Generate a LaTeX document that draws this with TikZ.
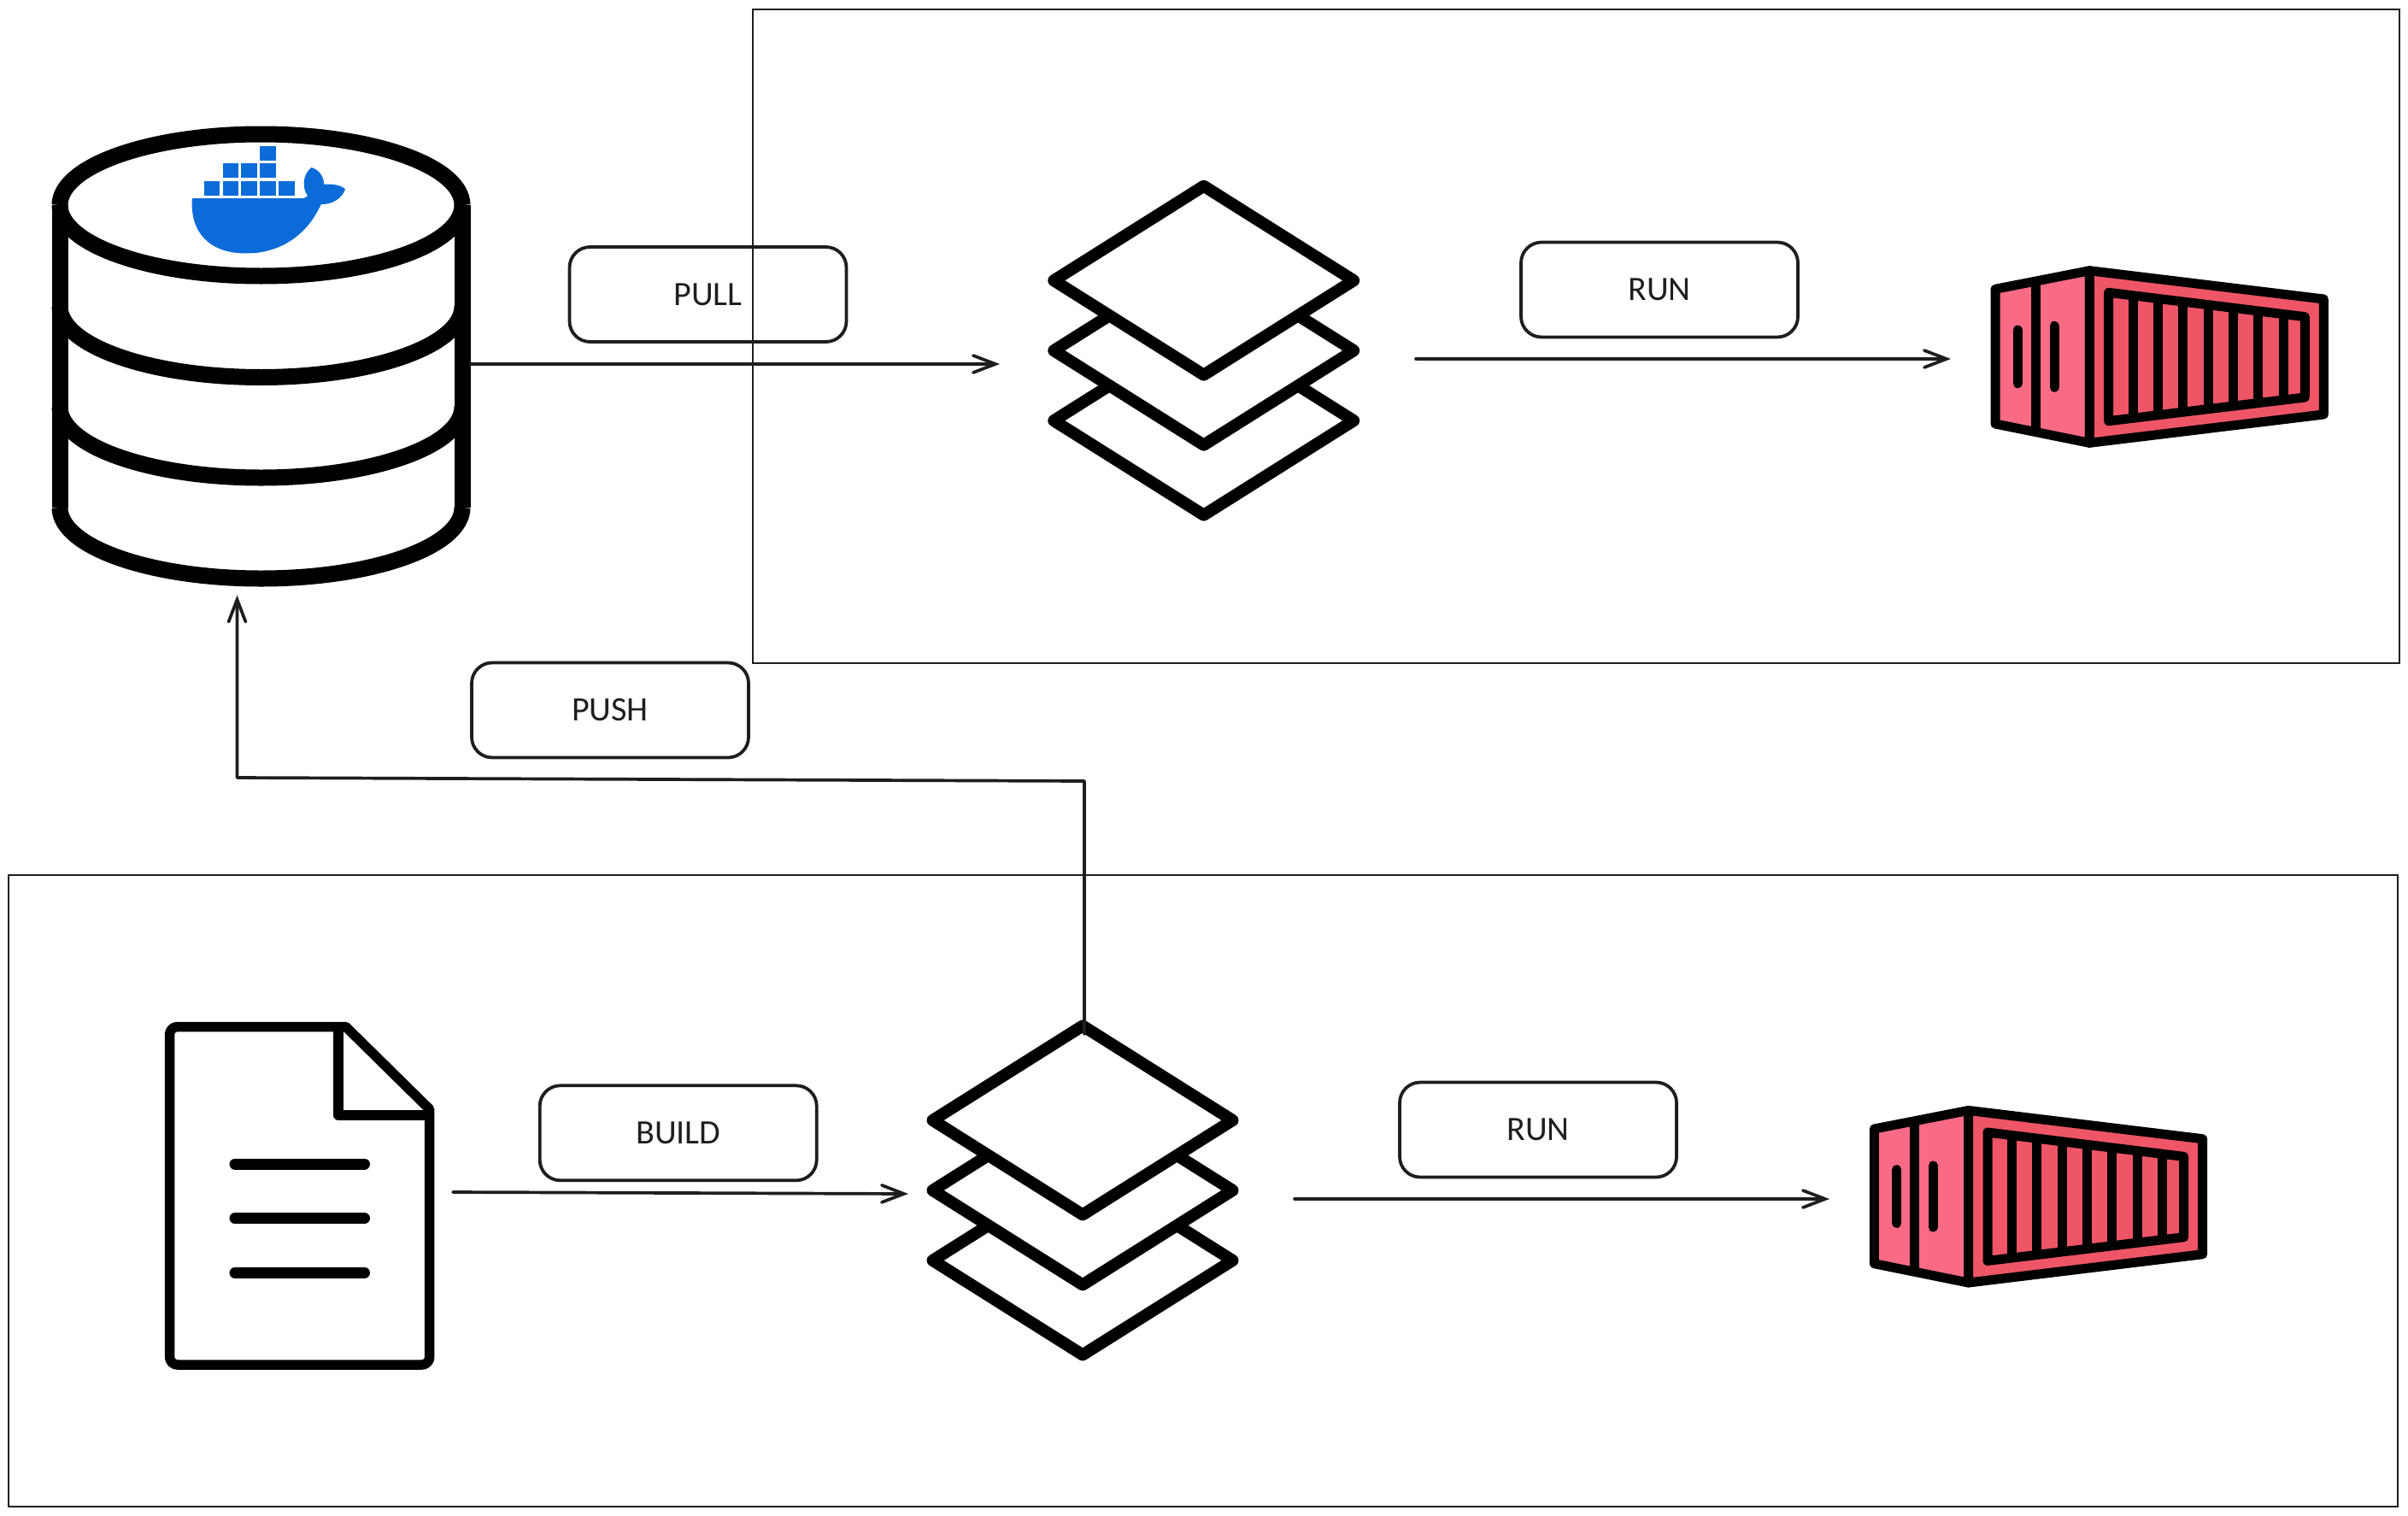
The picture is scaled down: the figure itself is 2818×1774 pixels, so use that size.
\documentclass[tikz,border=0pt]{standalone}
\usepackage{fontspec}
\setmainfont{Carlito}
\usetikzlibrary{calc,arrows.meta}

\definecolor{inkblack}{HTML}{1E1E1E}
\definecolor{dockerblue}{HTML}{0B6CD9}
\definecolor{doorpink}{HTML}{F96B85}
\definecolor{sidepink}{HTML}{EE5567}

\tikzset{
	framebox/.style={draw=inkblack, line width=2.2pt},
	labelbox/.style={draw=inkblack, line width=3.8pt, rounded corners=24pt, minimum width=324pt, minimum height=111pt, inner sep=0pt, text=inkblack, font=\fontsize{40}{42}\selectfont},
	iconbox/.style={inner sep=0pt, outer sep=0pt},
	flowline/.style={draw=inkblack, line width=3.7pt, line cap=round, line join=round, -{Straight Barb[length=26pt,width=20pt,line cap=round]}},
	heavyline/.style={draw=black, line join=round, line width=#1}
}

\begin{document}
\begin{tikzpicture}[x=1pt, y=-1pt]

		\useasboundingbox (0,0) rectangle (2818,1774);

		\pgfmathsetmacro{\layergap}{82}

		% draw the two frames
		\draw[framebox] (881, 11) rectangle (2808, 776);
		\draw[framebox] (10, 1024) rectangle (2806, 1763);

		% draw the registry
		\foreach \arcy in {240, 358.5, 476, 594}
		{
			\draw[heavyline=19pt] (70, \arcy) .. controls (70, \arcy + 45.8) and (175.4, \arcy + 83) .. (305.5, \arcy + 83) .. controls (435.6, \arcy + 83) and (541, \arcy + 45.8) .. (541, \arcy);
		}
		\draw[heavyline=19pt] (70, 240) .. controls (70, 194.2) and (175.4, 157) .. (305.5, 157) .. controls (435.6, 157) and (541, 194.2) .. (541, 240);
		\draw[heavyline=19pt] (70, 240) -- (70, 594);
		\draw[heavyline=19pt] (541, 240) -- (541, 594);

		% draw the whale on top of it
		\foreach \col/\row in {0/2, 1/2, 2/2, 3/2, 4/2, 1/1, 2/1, 3/1, 3/0}
		{
			\fill[dockerblue] (238.7 + 21.8 * \col, 170.7 + 20.7 * \row) rectangle ++(18.6, 17);
		}
		\fill[dockerblue] (224.9, 232.1) -- (351.6, 232.1) .. controls (356, 232.1) and (359, 231) .. (360.2, 229.1) .. controls (354, 222) and (353, 205) .. (364.4, 195.9) .. controls (374, 199) and (379, 207) .. (379.2, 215.8) .. controls (386, 215) and (398, 215.5) .. (404, 221.4) .. controls (400, 233) and (388, 239.5) .. (375.7, 239.1) .. controls (358, 278) and (325, 296.5) .. (288, 296.5) .. controls (245, 296.5) and (222, 272) .. (224.9, 232.1) -- cycle;

		% draw the file
		\draw[heavyline=11.5pt] [rounded corners=9pt] (404.7, 1201.5) -- (198.6, 1201.5) -- (198.6, 1597) -- (502.7, 1597) [sharp corners] -- (502.7, 1298) -- cycle;
		\draw[heavyline=11.5pt] (396, 1201.5) -- (396, 1305) -- (502.7, 1305);
		\foreach \texty in {1362, 1425.7, 1489.3}
		{
			\draw[heavyline=13pt, line cap=round] (275, \texty) -- (426.5, \texty);
		}

		% draw both stacks and both containers, the second ones are shifted
		\foreach \rowdx/\rowdy in {0/0, -141.7/982.7}
		{
			\begin{scope}[shift={(\rowdx, \rowdy)}]
				\foreach \lay in {2, 1, 0}
				{
					\draw[heavyline=14pt, fill=white] (1408.7, 217.7 + \layergap * \lay) -- ++(175.5, 110.5) -- ++(-175.5, 110.5) -- ++(-175.5, -110.5) -- cycle;
				}

				\draw[heavyline=11pt, fill=doorpink] (2445.3, 316.7) -- (2335, 338.3) -- (2335, 496) -- (2445.3, 518.3) -- cycle;
				\draw[heavyline=11pt, fill=sidepink] (2445.3, 316.7) -- (2719.3, 350) -- (2719.3, 485) -- (2445.3, 518.3) -- cycle;
				\draw[heavyline=11pt] (2382.3, 329) -- (2382.3, 507);
				\draw[heavyline=11pt, line cap=round] (2361.3, 386) -- (2361.3, 448.7);
				\draw[heavyline=11pt, line cap=round] (2404, 381.3) -- (2404, 453.3);

				\coordinate (windowNW) at (2467.7, 342.3);
				\coordinate (windowNE) at (2697.3, 370.7);
				\coordinate (windowSE) at (2697.3, 465);
				\coordinate (windowSW) at (2467.7, 492.7);
				\draw[heavyline=11pt] (windowNW) -- (windowNE) -- (windowSE) -- (windowSW) -- cycle;
				\foreach \bar in {0, ..., 6}
				{
					\pgfmathsetmacro{\barpos}{0.1234 + 0.1279 * \bar}
					\draw[heavyline=11pt] ($(windowNW)!\barpos!(windowNE)$) -- ($(windowSW)!\barpos!(windowSE)$);
				}
			\end{scope}
		}

		% nodes for the icons, only their sides are used
		\node[iconbox, minimum width=490pt, minimum height=541pt] (registry) at (305.5, 426) {};
		\node[iconbox, minimum width=487pt, minimum height=400pt] (layersTop) at (1413.5, 420) {};
		\node[iconbox, minimum width=443pt, minimum height=210pt] (containerTop) at (2504.5, 420) {};
		\node[iconbox, minimum width=358pt, minimum height=404pt] (dockerfile) at (351, 1395) {};
		\node[iconbox, minimum width=452pt, minimum height=386pt] (layersBottom) at (1289, 1403) {};
		\node[iconbox, minimum width=443pt, minimum height=210pt] (containerBottom) at (2362.5, 1403) {};

		\node[labelbox] (pullLabel) at (828.5, 344.5) {PULL};
		\node[labelbox] (runTopLabel) at (1942, 339) {RUN};
		\node[labelbox] (pushLabel) at (714, 831) {PUSH};
		\node[labelbox] (buildLabel) at (793.7, 1325.8) {BUILD};
		\node[labelbox] (runBottomLabel) at (1800, 1322) {RUN};

		\coordinate (pushRight) at (1269, 914);
		\coordinate (pushLeft) at (277.5, 910);

		% draw the arrows
		\draw[flowline] (registry.east) -- (registry.east -| layersTop.west);
		\draw[flowline] (layersTop.east) -- (containerTop.west);
		\draw[flowline] (dockerfile.east) -- ([yshift=6pt]layersBottom.west);
		\draw[flowline] (layersBottom.east) -- (containerBottom.west);
		\draw[flowline] (pushRight |- layersBottom.north) -- (pushRight) -- (pushLeft) -- (pushLeft |- registry.south);

\end{tikzpicture}
\end{document}
